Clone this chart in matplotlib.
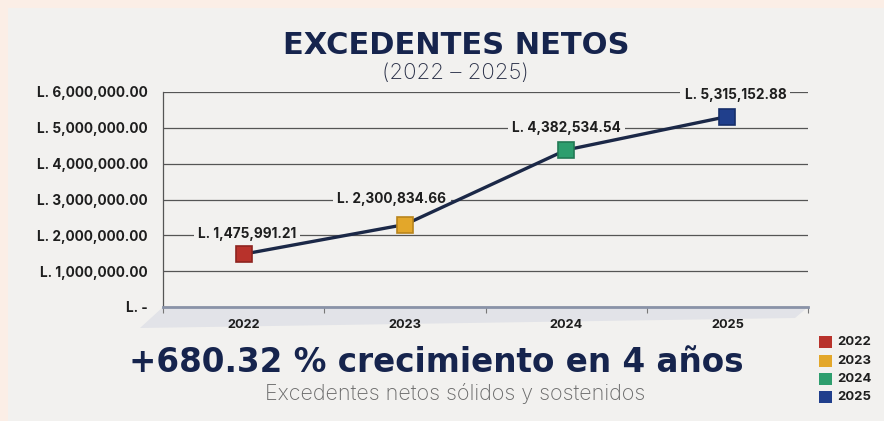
import matplotlib
matplotlib.use("Agg")
import matplotlib.pyplot as plt
from matplotlib.patches import Rectangle, Polygon
from matplotlib.ticker import FixedLocator

years = ["2022", "2023", "2024", "2025"]
values = [1475991.21, 2300834.66, 4382534.54, 5315152.88]
value_labels = ["L. 1,475,991.21", "L. 2,300,834.66", "L. 4,382,534.54", "L. 5,315,152.88"]
ytick_values = [0, 1000000, 2000000, 3000000, 4000000, 5000000, 6000000]
ytick_labels = ["L. -", "L. 1,000,000.00", "L. 2,000,000.00", "L. 3,000,000.00",
                "L. 4,000,000.00", "L. 5,000,000.00", "L. 6,000,000.00"]
colors = ["#b8322b", "#e3a72a", "#2e9e6e", "#203f8c"]
edge_colors = ["#8e2420", "#b9851c", "#237a55", "#172f6a"]
title = "EXCEDENTES NETOS"
subtitle = "(2022 – 2025)"
headline = "+680.32 % crecimiento en 4 años"
tagline = "Excedentes netos sólidos y sostenidos"

W, H = 884, 421
BG = "#f2f1ef"
NAVY = "#16244d"
FONT = ["Inter", "DejaVu Sans"]
WIDE = ["DejaVu Sans"]

fig = plt.figure(figsize=(W / 100, H / 100), dpi=100)
fig.patch.set_facecolor("#fbeee6")
fig.patches.append(Rectangle((8 / W, 0), 1 - 8 / W, 1 - 8 / H, transform=fig.transFigure,
                             facecolor=BG, edgecolor="none", zorder=-2))

def fx(px):
    return px / W

def fy(py):
    return 1 - py / H

# floor band under x axis
fig.patches.append(Polygon([(fx(163), fy(307)), (fx(808), fy(307)), (fx(795), fy(318)), (fx(140), fy(328))],
                           closed=True, transform=fig.transFigure, facecolor="#e2e3e8",
                           edgecolor="none", zorder=-1))

ax = fig.add_axes([fx(163), fy(307), fx(808) - fx(163), fy(92) - fy(307)])
ax.set_zorder(3)
ax.set_facecolor("none")
ax.set_xlim(-0.5, 3.5)
ax.set_ylim(0, 6000000)

x = list(range(len(years)))
ax.plot(x, values, color="#1b2847", lw=2.4, zorder=4, solid_capstyle="round")
for xi, v, c, ec in zip(x, values, colors, edge_colors):
    ax.plot([xi], [v], marker="s", ms=11.5, color=c, mec=ec, mew=1.2, zorder=5)

offsets = [(0.02, 570000), (-0.08, 720000), (0.0, 620000), (0.05, 590000)]
for xi, v, lab, (dx, dy) in zip(x, values, value_labels, offsets):
    ax.text(xi + dx, v + dy, lab, ha="center", va="center", fontsize=9.8, fontweight="bold",
            color="#1e1e1e", family=FONT, zorder=3,
            bbox=dict(boxstyle="square,pad=0.3", facecolor=BG, edgecolor="none"))

ax.set_yticks(ytick_values)
ax.set_yticklabels(ytick_labels, fontsize=9.8, fontweight="bold", color="#1e1e1e", family=FONT)
ax.grid(axis="y", color="#555555", lw=0.9, zorder=1)
ax.tick_params(axis="y", length=0, pad=11)

ax.xaxis.set_major_locator(FixedLocator(x))
ax.set_xticklabels(years, fontsize=9.2, fontweight="bold", color="#1e1e1e", family=FONT)
ax.tick_params(axis="x", which="major", length=0, pad=9)
ax.xaxis.set_minor_locator(FixedLocator([-0.5, 0.5, 1.5, 2.5, 3.5]))
ax.tick_params(axis="x", which="minor", length=4, color="#777777", width=0.8)

for s in ["top", "right"]:
    ax.spines[s].set_visible(False)
ax.spines["left"].set_color("#555555")
ax.spines["left"].set_linewidth(0.9)
ax.spines["bottom"].set_color("#8a93a8")
ax.spines["bottom"].set_linewidth(2.0)

fig.text(fx(456), fy(46), title, ha="center", va="center", fontsize=22, fontweight="bold",
         color=NAVY, family=WIDE)
fig.text(fx(455), fy(73), subtitle, ha="center", va="center", fontsize=16, fontweight="light",
         color="#2a3048", family=FONT)
fig.text(fx(436), fy(362), headline, ha="center", va="center", fontsize=23.5, fontweight="bold",
         color=NAVY, family=WIDE)
fig.text(fx(455), fy(394), tagline, ha="center", va="center", fontsize=15.5, fontweight="light",
         color="#6a6a6a", family=FONT)

leg_y = [342, 361, 379, 397]
for yy, c, yr in zip(leg_y, colors, years):
    fig.patches.append(Rectangle((fx(819), fy(yy + 6)), fx(13), 12 / H, transform=fig.transFigure,
                                 facecolor=c, edgecolor="none", zorder=2))
    fig.text(fx(837), fy(yy), yr, ha="left", va="center", fontsize=9.4, fontweight="bold",
             color="#1e1e1e", family=FONT)

fig.savefig("out.png", dpi=100, facecolor=fig.get_facecolor())
